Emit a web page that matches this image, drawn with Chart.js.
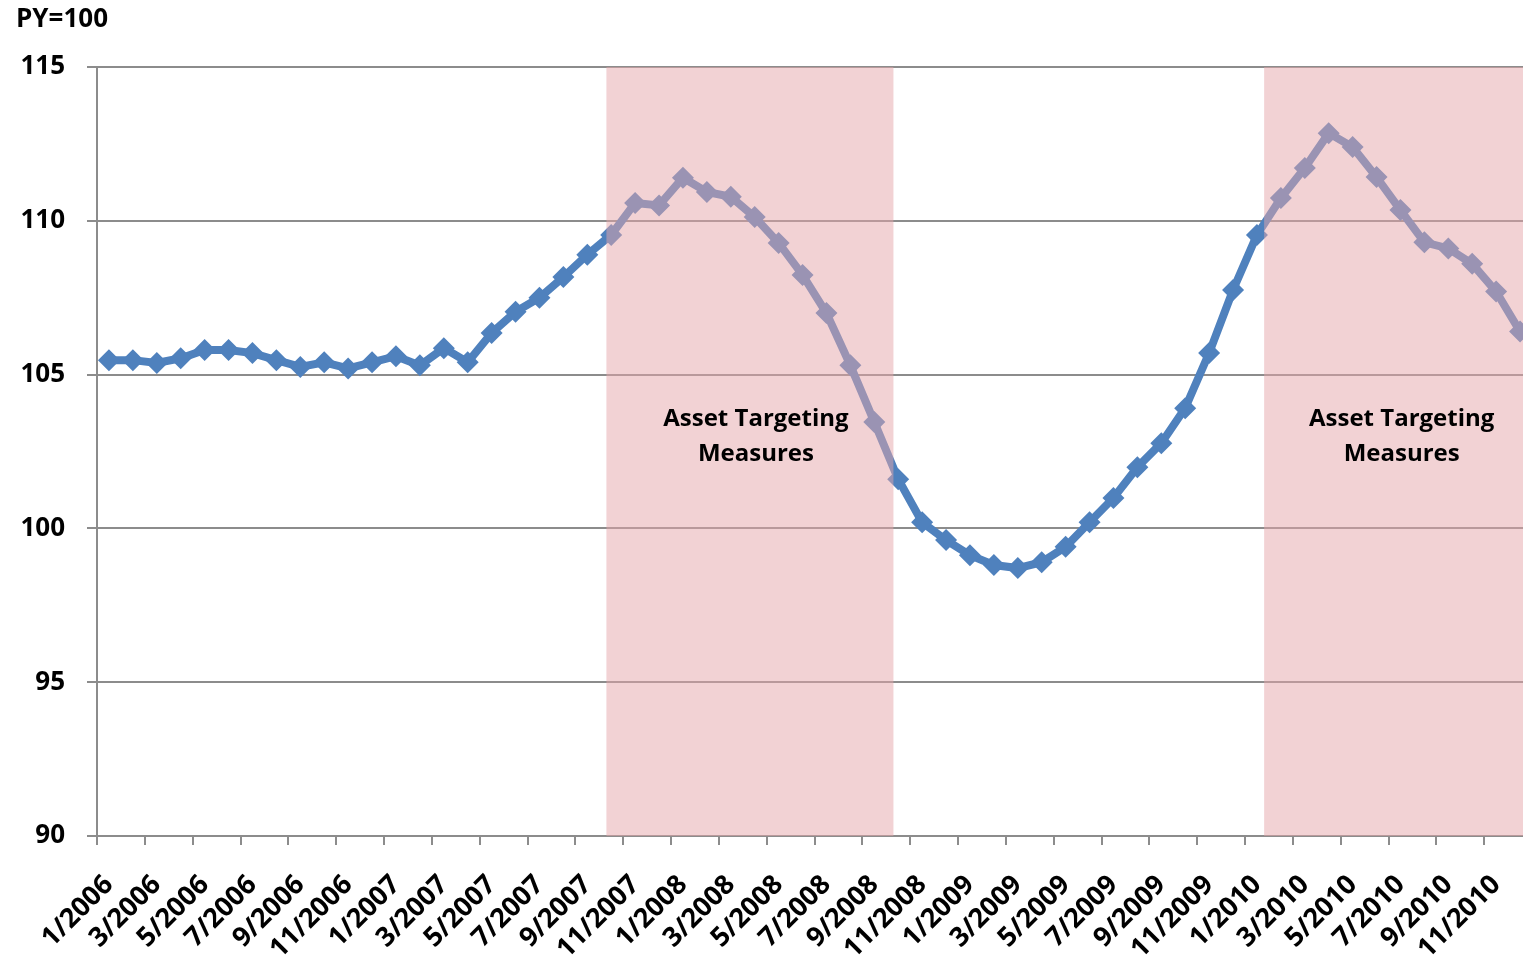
<!DOCTYPE html>
<html>
<head>
<meta charset="utf-8">
<script src="https://cdn.jsdelivr.net/npm/chart.js@4.4.1/dist/chart.umd.min.js"></script>
<style>
  html, body { margin: 0; padding: 0; background: #fff; overflow: hidden; }
  #wrap { position: relative; width: 1543px; height: 965px; }
</style>
</head>
<body>
<div id="wrap"><canvas id="priceChart" width="1543" height="965"></canvas></div>
<script>
// Monthly index, previous year = 100
const months = [
    '1/2006', '2/2006', '3/2006', '4/2006', '5/2006', '6/2006', '7/2006', '8/2006', '9/2006', '10/2006', '11/2006', '12/2006',
    '1/2007', '2/2007', '3/2007', '4/2007', '5/2007', '6/2007', '7/2007', '8/2007', '9/2007', '10/2007', '11/2007', '12/2007',
    '1/2008', '2/2008', '3/2008', '4/2008', '5/2008', '6/2008', '7/2008', '8/2008', '9/2008', '10/2008', '11/2008', '12/2008',
    '1/2009', '2/2009', '3/2009', '4/2009', '5/2009', '6/2009', '7/2009', '8/2009', '9/2009', '10/2009', '11/2009', '12/2009',
    '1/2010', '2/2010', '3/2010', '4/2010', '5/2010', '6/2010', '7/2010', '8/2010', '9/2010', '10/2010', '11/2010', '12/2010'
];
const priceIndex = [
    105.47, 105.47, 105.38, 105.53, 105.8, 105.8, 105.7, 105.47, 105.25, 105.4, 105.2, 105.4,
    105.6, 105.3, 105.86, 105.4, 106.35, 107.04, 107.5, 108.17, 108.9, 109.54, 110.58, 110.5,
    111.4, 110.94, 110.78, 110.12, 109.28, 108.24, 107.0, 105.3, 103.46, 101.6, 100.2, 99.62,
    99.13, 98.81, 98.71, 98.9, 99.4, 100.2, 100.99, 101.99, 102.77, 103.91, 105.7, 107.75,
    109.54, 110.74, 111.72, 112.85, 112.4, 111.42, 110.35, 109.3, 109.1, 108.6, 107.7, 106.4
];
const yTicks = [90, 95, 100, 105, 110, 115];
const shadedPeriods = [['10/2007', '9/2008'], ['2/2010', '12/2010']];
const noteLines = ['Asset Targeting', 'Measures'];
const unitLabel = 'PY=100';

const FONT = '"Open Sans"';
Chart.defaults.font.family = FONT;

// shaded periods sit on top of the line, like the original
const shadePlugin = {
    id: 'shadePlugin',
    afterDatasetsDraw(chart, args, opts) {
        const { ctx, chartArea, scales: { x, y } } = chart;
        const step = x.getPixelForValue(1) - x.getPixelForValue(0);
        ctx.save();
        shadedPeriods.forEach(([from, to], k) => {
            const nudge = (opts.nudge[k] || 0) * step;
            const left = x.getPixelForValue(months.indexOf(from)) - step / 2 + nudge;
            const right = Math.min(x.getPixelForValue(months.indexOf(to)) + step / 2 + nudge, chartArea.right);
            ctx.fillStyle = 'rgba(229,165,169,0.5)';
            ctx.fillRect(left, chartArea.top, right - left, chartArea.bottom - chartArea.top);

            const cx = (left + right) / 2 + 6;
            const cy = y.getPixelForValue(103.55);
            ctx.fillStyle = '#000';
            ctx.font = 'bold 24px ' + FONT;
            ctx.textAlign = 'center';
            ctx.textBaseline = 'middle';
            noteLines.forEach((line, i) => ctx.fillText(line, cx, cy + i * 35));
        });
        ctx.restore();
    },
    afterDraw(chart) {
        const ctx = chart.ctx;
        ctx.save();
        ctx.fillStyle = '#000';
        ctx.font = 'bold 26px ' + FONT;
        ctx.textAlign = 'left';
        ctx.textBaseline = 'middle';
        ctx.fillText(unitLabel, 16, 20);
        ctx.restore();
    }
};

new Chart(document.getElementById('priceChart'), {
    type: 'line',
    data: {
        labels: months,
        datasets: [{
            data: priceIndex,
            borderColor: '#4F81BD',
            backgroundColor: '#4F81BD',
            borderWidth: 8,
            pointStyle: 'rectRot',
            pointRadius: 11,
            pointBorderWidth: 0,
            pointBackgroundColor: '#4F81BD',
            tension: 0
        }]
    },
    options: {
        responsive: false,
        animation: false,
        layout: { padding: { top: 67, right: 6, left: 0, bottom: 0 } },
        plugins: {
            legend: { display: false },
            tooltip: { enabled: false },
            shadePlugin: { nudge: [0.3, -0.2] }
        },
        scales: {
            x: {
                offset: true,
                grid: {
                    offset: true,
                    drawOnChartArea: false,
                    tickLength: 9,
                    lineWidth: 2,
                    // a tick mark every second month, on the category boundary
                    color: (c) => (c.index % 2 === 0 ? '#8c8c8c' : 'rgba(0,0,0,0)')
                },
                border: { color: '#8c8c8c', width: 2 },
                ticks: {
                    autoSkip: false,
                    maxRotation: 45,
                    minRotation: 45,
                    padding: 24,
                    color: '#000',
                    font: { size: 27, weight: 'bold' },
                    callback: (val, i) => (i % 2 === 0 ? months[i] : '')
                },
                afterFit: (s) => { s.height = 129; s.paddingLeft = 0; s.paddingRight = 0; }
            },
            y: {
                min: yTicks[0],
                max: yTicks[yTicks.length - 1],
                grid: { color: '#8c8c8c', lineWidth: 2, tickLength: 10 },
                border: { color: '#8c8c8c', width: 2 },
                ticks: {
                    stepSize: yTicks[1] - yTicks[0],
                    padding: 22,
                    color: '#000',
                    font: { size: 26, weight: 'bold' }
                },
                afterFit: (s) => { s.width = 97; }
            }
        }
    },
    plugins: [shadePlugin]
});
</script>
</body>
</html>
